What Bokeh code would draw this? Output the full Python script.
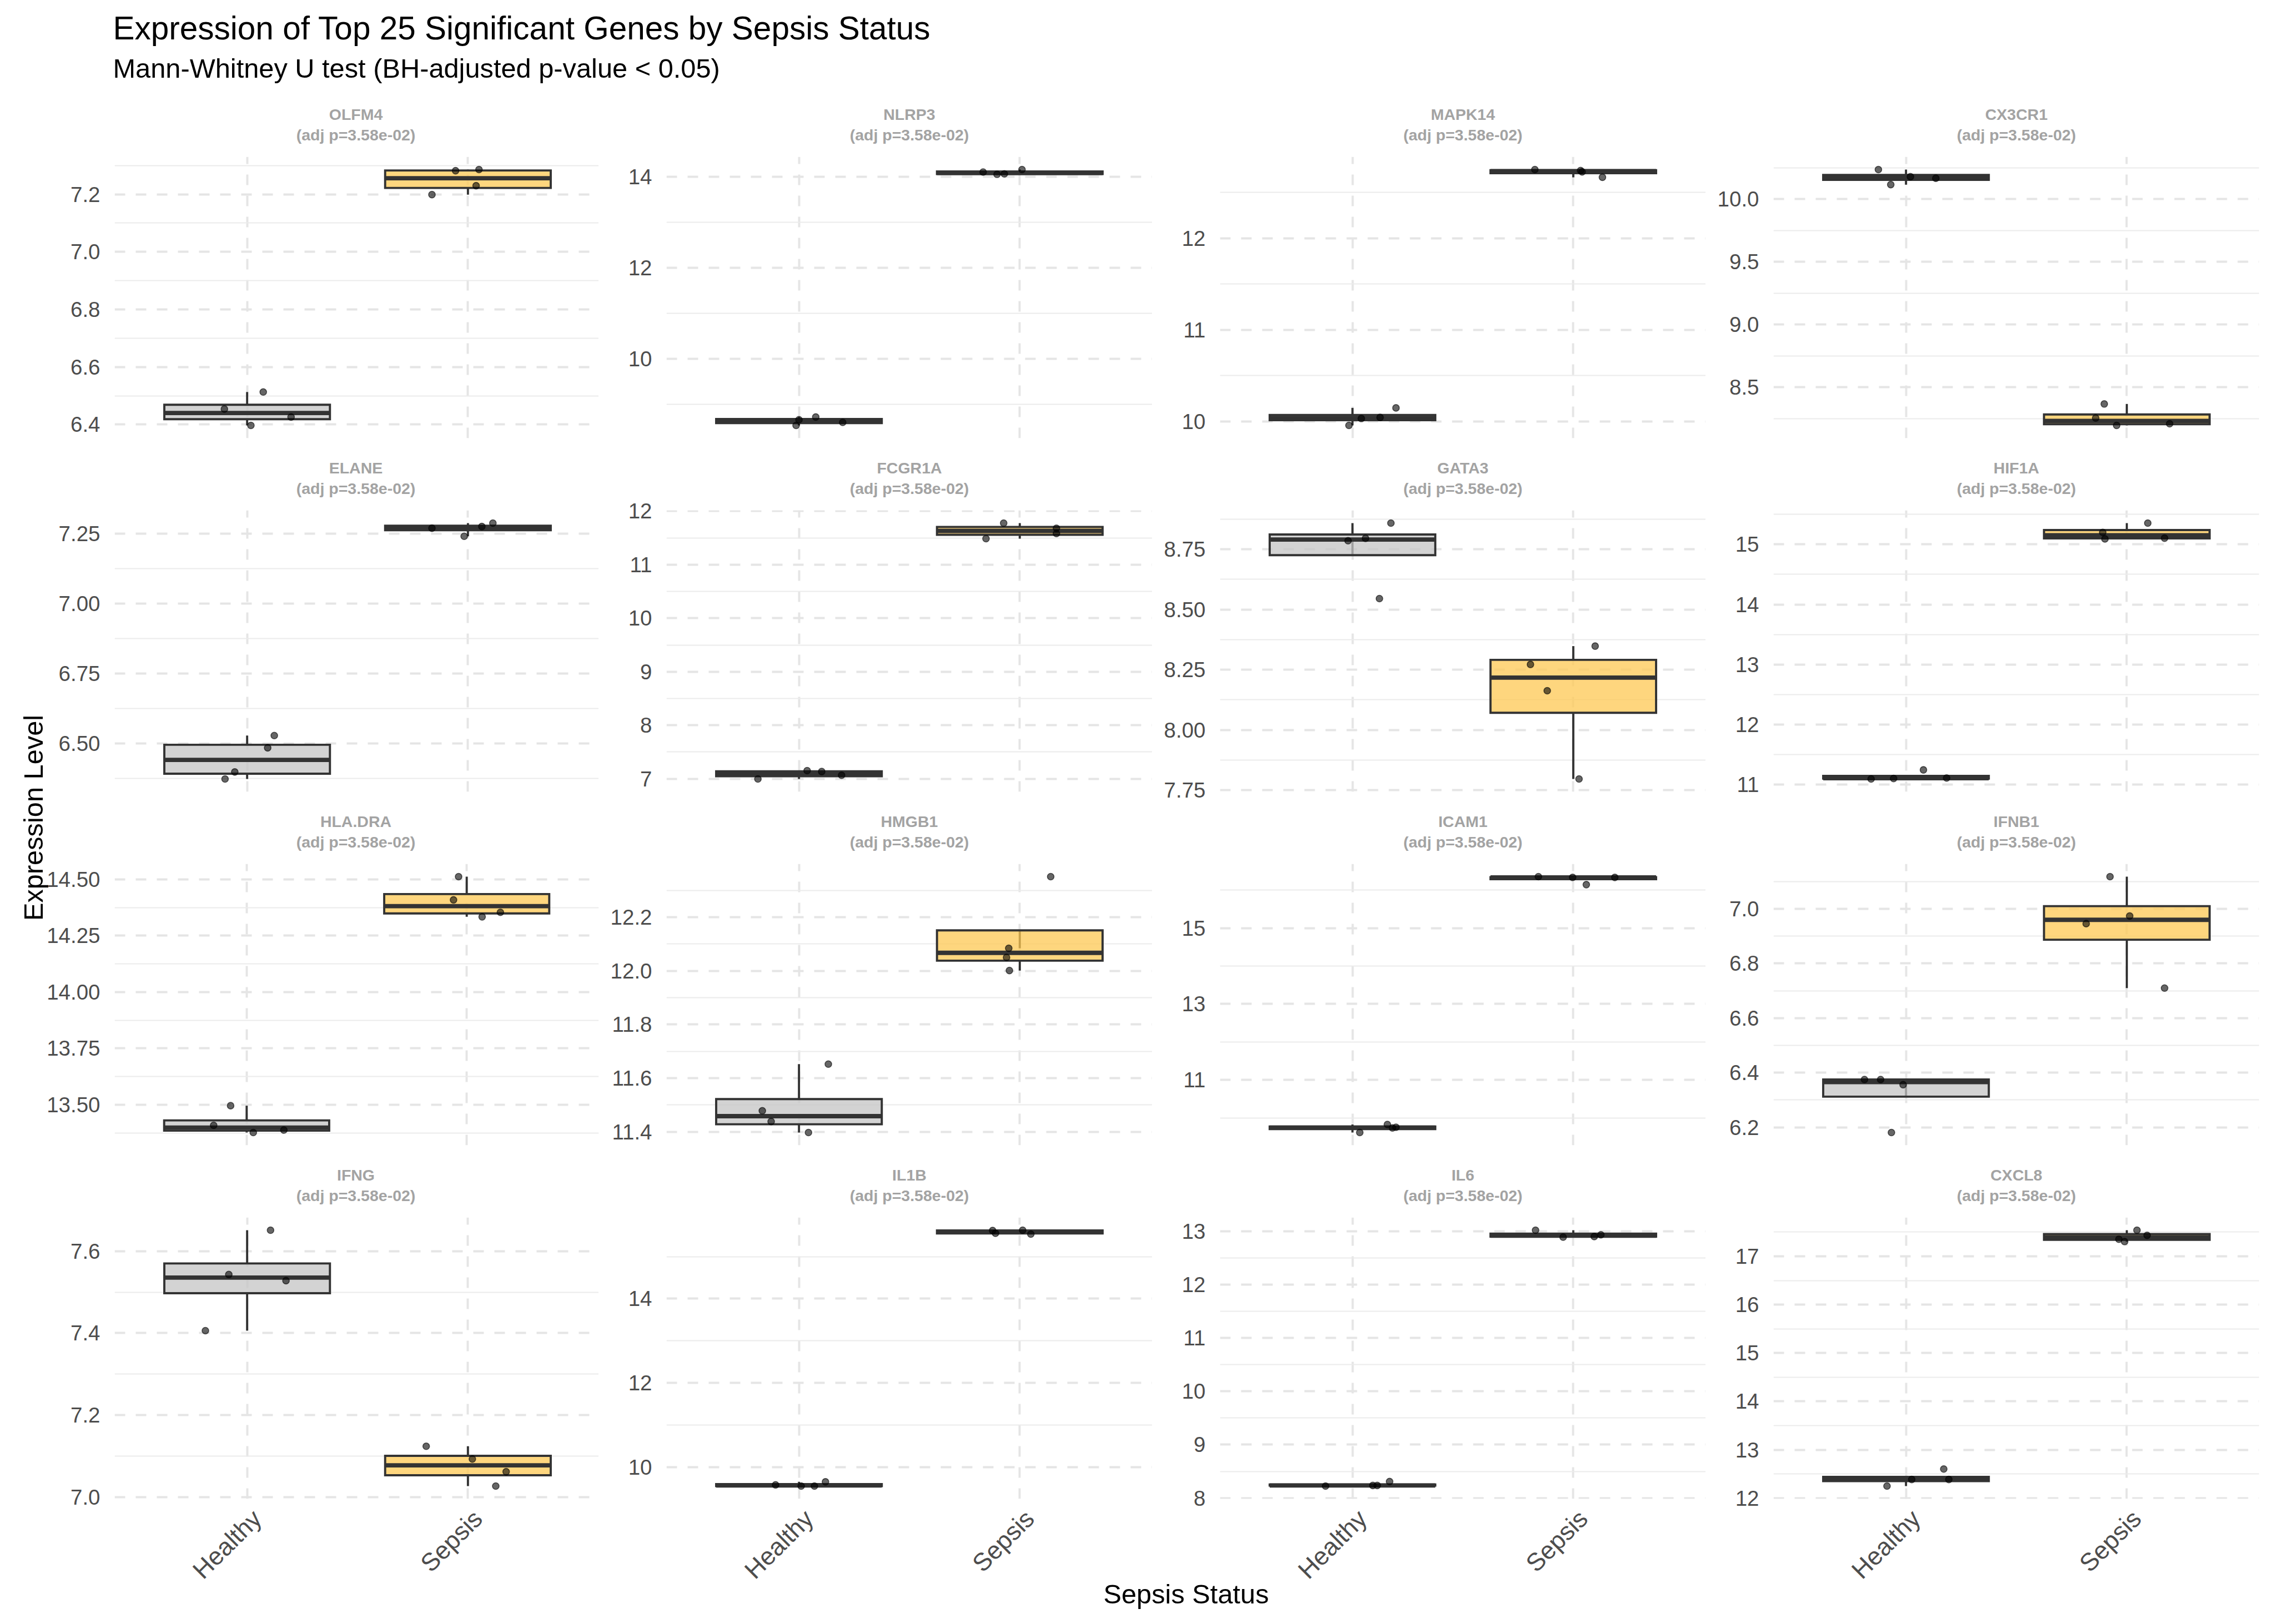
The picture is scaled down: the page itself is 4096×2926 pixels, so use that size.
import math
import numpy as np
from bokeh.plotting import figure
from bokeh.models import Range1d, FixedTicker, PrintfTickFormatter, Label, GridBox
from bokeh.embed import file_html
from bokeh.resources import INLINE

# ---------------- data ----------------
genes = ["OLFM4", "NLRP3", "MAPK14", "CX3CR1",
         "ELANE", "FCGR1A", "GATA3", "HIF1A",
         "HLA.DRA", "HMGB1", "ICAM1", "IFNB1",
         "IFNG", "IL1B", "IL6", "CXCL8"]
adj_p = ["3.58e-02"] * 16
groups = ["Healthy", "Sepsis"]

healthy_expr = [
    [6.513, 6.454, 6.426, 6.397],
    [8.532, 8.657, 8.716, 8.598],
    [9.958, 10.033, 10.045, 10.149],
    [10.236, 10.116, 10.179, 10.167],
    [6.529, 6.485, 6.399, 6.374],
    [6.997, 7.152, 7.135, 7.066],
    [8.858, 8.785, 8.795, 8.545],
    [11.095, 11.103, 11.246, 11.111],
    [13.496, 13.409, 13.377, 13.388],
    [11.652, 11.478, 11.438, 11.397],
    [9.617, 9.828, 9.737, 9.755],
    [6.375, 6.375, 6.356, 6.181],
    [7.651, 7.543, 7.528, 7.406],
    [9.580, 9.552, 9.552, 9.652],
    [8.226, 8.237, 8.237, 8.310],
    [12.249, 12.385, 12.601, 12.385],
]
sepsis_expr = [
    [7.286, 7.282, 7.230, 7.199],
    [14.10, 14.05, 14.06, 14.154],
    [12.750, 12.740, 12.725, 12.666],
    [8.367, 8.255, 8.196, 8.209],
    [7.269, 7.240, 7.275, 7.287],
    [11.775, 11.485, 11.680, 11.581],
    [8.348, 8.272, 8.163, 7.797],
    [15.354, 15.200, 15.092, 15.104],
    [14.512, 14.409, 14.334, 14.354],
    [12.351, 12.084, 12.050, 12.001],
    [16.353, 16.334, 16.334, 16.144],
    [7.118, 6.974, 6.946, 6.710],
    [7.124, 7.093, 7.062, 7.027],
    [15.620, 15.556, 15.627, 15.535],
    [13.017, 12.888, 12.899, 12.932],
    [17.352, 17.303, 17.538, 17.433],
]
healthy_jitter = [
    [0.073, -0.103, 0.199, 0.017],
    [-0.013, 0.0, 0.076, 0.198],
    [-0.016, 0.04, 0.125, 0.197],
    [-0.125, -0.069, 0.02, 0.135],
    [0.123, 0.093, -0.056, -0.1],
    [-0.186, 0.037, 0.103, 0.193],
    [0.174, -0.02, 0.059, 0.122],
    [-0.158, -0.056, 0.079, 0.184],
    [-0.073, -0.15, 0.03, 0.169],
    [0.133, -0.166, -0.126, 0.043],
    [0.033, 0.158, 0.181, 0.197],
    [-0.188, -0.115, -0.013, -0.066],
    [0.106, -0.083, 0.176, -0.189],
    [-0.106, 0.01, 0.07, 0.12],
    [-0.122, 0.092, 0.112, 0.168],
    [-0.086, 0.026, 0.171, 0.194],
]
sepsis_jitter = [
    [0.05, -0.056, 0.037, -0.163],
    [-0.166, -0.103, -0.07, 0.01],
    [-0.174, 0.033, 0.04, 0.132],
    [-0.102, -0.141, -0.046, 0.194],
    [-0.163, -0.017, 0.063, 0.113],
    [-0.073, -0.153, 0.166, 0.166],
    [0.099, -0.194, -0.118, 0.026],
    [0.095, -0.109, -0.099, 0.171],
    [-0.037, -0.06, 0.07, 0.153],
    [0.14, -0.05, -0.06, -0.047],
    [-0.158, -0.003, 0.188, 0.059],
    [-0.076, 0.013, -0.184, 0.171],
    [-0.189, 0.02, 0.173, 0.126],
    [-0.123, -0.11, 0.013, 0.05],
    [-0.171, -0.046, 0.095, 0.125],
    [-0.036, -0.01, 0.046, 0.092],
]
y_tick_labels = [
    ["6.4", "6.6", "6.8", "7.0", "7.2"],
    ["10", "12", "14"],
    ["10", "11", "12"],
    ["8.5", "9.0", "9.5", "10.0"],
    ["6.50", "6.75", "7.00", "7.25"],
    ["7", "8", "9", "10", "11", "12"],
    ["7.75", "8.00", "8.25", "8.50", "8.75"],
    ["11", "12", "13", "14", "15"],
    ["13.50", "13.75", "14.00", "14.25", "14.50"],
    ["11.4", "11.6", "11.8", "12.0", "12.2"],
    ["11", "13", "15"],
    ["6.2", "6.4", "6.6", "6.8", "7.0"],
    ["7.0", "7.2", "7.4", "7.6"],
    ["10", "12", "14"],
    ["8", "9", "10", "11", "12", "13"],
    ["12", "13", "14", "15", "16", "17"],
]
title_text = "Expression of Top 25 Significant Genes by Sepsis Status"
subtitle_text = "Mann-Whitney U test (BH-adjusted p-value < 0.05)"
x_title = "Sepsis Status"
y_title = "Expression Level"

# ---------------- style / layout ----------------
FONT = "Liberation Sans"
FILLS = ["#C4C4C4", "#FEC853"]
EDGE = "#333333"
STRIP = "#A3A3A3"
FW, FH = 875, 507
BL, BT, BB, BB_LAST = 122, 112, 18, 226
HEAD, LEFT, ROW_H, COL_W = 170, 81, 637, 997
ROWS = [f"{HEAD}px", f"{ROW_H}px", f"{ROW_H}px", f"{ROW_H}px",
        f"{BT + FH + BB_LAST}px"]
COLS = [f"{LEFT}px", f"{COL_W}px", f"{COL_W}px", f"{COL_W}px", "1024px"]
BOX_W = 0.75
XLAB_SHIFT = 0.045   # rotated tick labels sit slightly right of the category
DY = -17             # vertical correction of the overlay texts


def make_panel(i, r):
    h = np.array(healthy_expr[i])
    s = np.array(sepsis_expr[i])
    allv = np.concatenate([h, s])
    lo, hi = allv.min(), allv.max()
    pad = 0.05 * (hi - lo)
    last = (r == 3)
    p = figure(frame_width=FW, frame_height=FH,
               min_border_left=BL, min_border_right=0, min_border_top=BT,
               min_border_bottom=BB_LAST if last else BB,
               x_range=Range1d(0.4, 2.6), y_range=Range1d(lo - pad, hi + pad),
               output_backend="svg", toolbar_location=None, title=None)
    p.outline_line_color = None
    p.background_fill_color = "white"
    p.border_fill_color = "white"

    labs = y_tick_labels[i]
    majors = [float(v) for v in labs]
    step = majors[1] - majors[0]
    minors = [majors[0] - step / 2] + [m + step / 2 for m in majors]
    dec = len(labs[0].split(".")[1]) if "." in labs[0] else 0
    yt = FixedTicker(ticks=majors, minor_ticks=minors)
    p.yaxis.ticker = yt
    p.ygrid.ticker = yt
    p.yaxis.formatter = PrintfTickFormatter(format=f"%.{dec}f")
    p.yaxis.axis_line_color = None
    p.yaxis.major_tick_line_color = None
    p.yaxis.minor_tick_line_color = None
    p.yaxis.major_tick_out = 0
    p.yaxis.major_label_standoff = 22
    p.yaxis.major_label_text_font = FONT
    p.yaxis.major_label_text_font_size = "38.5px"
    p.yaxis.major_label_text_color = "#4D4D4D"

    p.xgrid.ticker = FixedTicker(ticks=[1, 2])
    lab_pos = [1 + XLAB_SHIFT, 2 + XLAB_SHIFT]
    p.xaxis.ticker = FixedTicker(ticks=lab_pos)
    p.xaxis.major_label_overrides = {lab_pos[0]: groups[0], lab_pos[1]: groups[1]}
    p.xaxis.major_label_orientation = math.pi / 4
    p.xaxis.axis_line_color = None
    p.xaxis.major_tick_line_color = None
    p.xaxis.minor_tick_line_color = None
    p.xaxis.major_tick_out = 0
    p.xaxis.major_label_standoff = 28
    p.xaxis.major_label_text_font = FONT
    p.xaxis.major_label_text_font_size = "45px"
    p.xaxis.major_label_text_color = "#4D4D4D"
    if not last:
        p.xaxis.visible = False

    for g in (p.ygrid, p.xgrid):
        g.grid_line_color = "#E5E5E5"
        g.grid_line_width = 3.9
        g.grid_line_dash = "19 19"
    p.ygrid.minor_grid_line_color = "#EBEBEB"
    p.ygrid.minor_grid_line_width = 2
    p.xgrid.minor_grid_line_color = None

    for k, (vals, jit, fill) in enumerate(
            [(h, healthy_jitter[i], FILLS[0]), (s, sepsis_jitter[i], FILLS[1])], start=1):
        q1, med, q3 = np.percentile(vals, [25, 50, 75])
        iqr = q3 - q1
        w_lo = vals[vals >= q1 - 1.5 * iqr].min()
        w_hi = vals[vals <= q3 + 1.5 * iqr].max()
        p.segment(x0=[k, k], y0=[q3, q1], x1=[k, k], y1=[w_hi, w_lo],
                  line_color=EDGE, line_width=3.9)
        p.quad(left=[k - BOX_W / 2], right=[k + BOX_W / 2], bottom=[q1], top=[q3],
               fill_color=fill, fill_alpha=0.75, line_color=EDGE, line_width=3.9,
               line_join="miter")
        p.segment(x0=[k - BOX_W / 2], x1=[k + BOX_W / 2], y0=[med], y1=[med],
                  line_color=EDGE, line_width=7.8)
        p.scatter(x=k + np.array(jit), y=vals, size=12, fill_color="black",
                  fill_alpha=0.6, line_color="black", line_alpha=0.6, line_width=1.6)
    return p


children = []
for i in range(16):
    r, c = divmod(i, 4)
    children.append((make_panel(i, r), r + 1, c + 1))

W, H = 4096, 2926
ov = figure(frame_width=W, frame_height=H, min_border=0,
            x_range=Range1d(0, W), y_range=Range1d(H, 0),
            x_axis_type=None, y_axis_type=None, toolbar_location=None,
            output_backend="svg", title=None)
ov.outline_line_color = None
ov.background_fill_color = None
ov.border_fill_color = None


def txt(x, y, text, size, color="black", bold=False, align="left", angle=0.0):
    ov.add_layout(Label(x=x, y=y + DY, text=text, text_font=FONT, angle=angle,
                        text_font_size=size, text_color=color,
                        text_font_style="bold" if bold else "normal",
                        text_baseline="alphabetic", text_align=align))


txt(203, 66.5, title_text, "58.5px")
txt(203, 139.7, subtitle_text, "48.75px")
txt(59.5, 1490, y_title, "48.75px", align="center", angle=math.pi / 2)
txt(2136, 2888, x_title, "48.75px", align="center")

# facet strips (two centred lines above each panel frame)
for i in range(16):
    r, c = divmod(i, 4)
    cx = LEFT + COL_W * c + BL + FW / 2
    ftop = HEAD + ROW_H * r + BT
    txt(cx, ftop - 59.4, genes[i], "28.5px", STRIP, True, "center")
    txt(cx, ftop - 22.5, f"(adj p={adj_p[i]})", "28.5px", STRIP, True, "center")

children.append((ov, 0, 0, 5, 5))

layout = GridBox(children=children, rows=ROWS, cols=COLS, spacing=0)
open("out.html", "w").write(file_html(layout, INLINE))
